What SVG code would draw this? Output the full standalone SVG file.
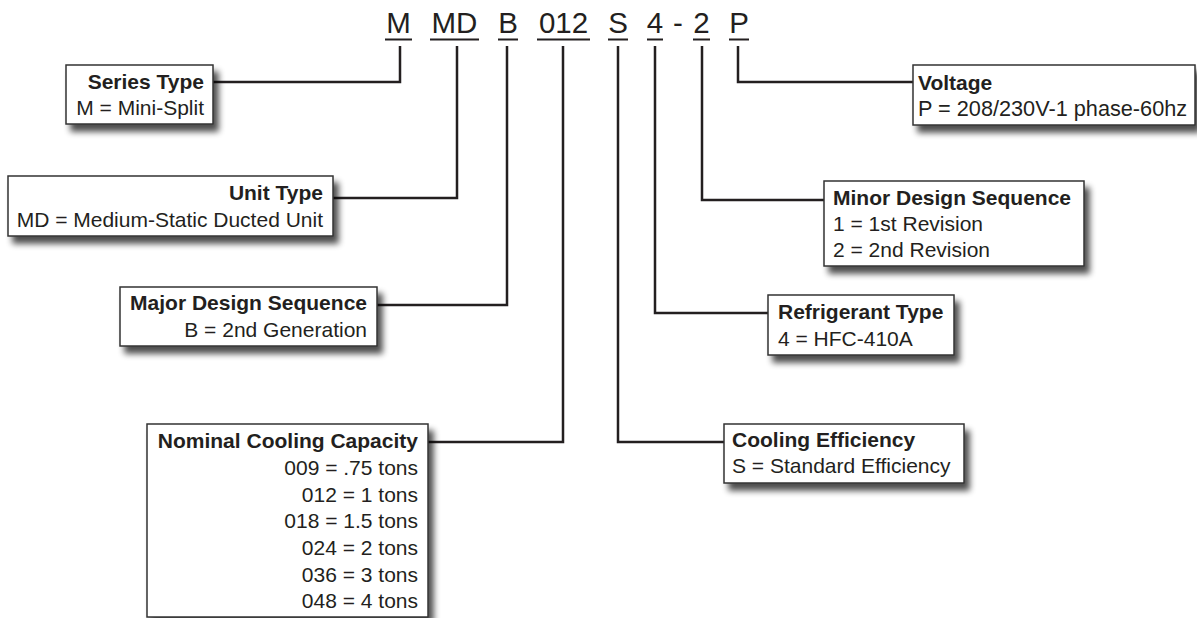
<svg xmlns="http://www.w3.org/2000/svg" width="1197" height="618" viewBox="0 0 1197 618">
<defs>
<filter id="sh" x="-10%" y="-20%" width="130%" height="160%">
<feGaussianBlur in="SourceAlpha" stdDeviation="3"/>
<feOffset dx="5" dy="7" result="b"/>
<feComponentTransfer><feFuncA type="linear" slope="0.7"/></feComponentTransfer>
<feMerge><feMergeNode/><feMergeNode in="SourceGraphic"/></feMerge>
</filter>
<style>
.code{font-family:"Liberation Sans",Arial,sans-serif;font-size:29.5px;fill:#231f20;text-anchor:middle}
.ul{stroke:#231f20;stroke-width:2}
.box{fill:#fff;stroke:#333;stroke-width:1.5;filter:url(#sh)}
.t{font-family:"Liberation Sans",Arial,sans-serif;font-size:21px;fill:#231f20}
.b{font-weight:bold}
.r{text-anchor:end}
.c{fill:none;stroke:#231f20;stroke-width:2.5}
</style>
</defs>
<rect width="1197" height="618" fill="#fff"/>
<g id="code">
<text class="code" x="398.5" y="33">M</text>
<text class="code" x="454.5" y="33">MD</text>
<text class="code" x="508" y="33">B</text>
<text class="code" x="563.5" y="33">012</text>
<text class="code" x="618" y="33">S</text>
<text class="code" x="655" y="33">4</text>
<text class="code" x="678" y="33">-</text>
<text class="code" x="701.5" y="33">2</text>
<text class="code" x="739" y="33">P</text>
<line class="ul" x1="385" y1="39.5" x2="412" y2="39.5"/>
<line class="ul" x1="430" y1="39.5" x2="479" y2="39.5"/>
<line class="ul" x1="498" y1="39.5" x2="518" y2="39.5"/>
<line class="ul" x1="537" y1="39.5" x2="590" y2="39.5"/>
<line class="ul" x1="608" y1="39.5" x2="628" y2="39.5"/>
<line class="ul" x1="647" y1="39.5" x2="663" y2="39.5"/>
<line class="ul" x1="693" y1="39.5" x2="710" y2="39.5"/>
<line class="ul" x1="729" y1="39.5" x2="749" y2="39.5"/>
</g>
<g id="connectors">
<polyline class="c" points="213,82 400,82 400,46"/>
<polyline class="c" points="333,198 457,198 457,46"/>
<polyline class="c" points="377,305 507,305 507,46"/>
<polyline class="c" points="428,442 563,442 563,46"/>
<polyline class="c" points="724,442 618,442 618,46"/>
<polyline class="c" points="768,313 655,313 655,46"/>
<polyline class="c" points="824,200 702,200 702,46"/>
<polyline class="c" points="913,82 738,82 738,46"/>
</g>
<g id="series-type">
<rect class="box" x="66" y="65" width="147" height="59"/>
<text class="t b r" x="204" y="89">Series Type</text>
<text class="t r" x="204" y="115">M = Mini-Split</text>
</g>
<g id="unit-type">
<rect class="box" x="8" y="176" width="325" height="60"/>
<text class="t b r" x="323" y="200">Unit Type</text>
<text class="t r" x="323" y="227">MD = Medium-Static Ducted Unit</text>
</g>
<g id="major-design">
<rect class="box" x="120" y="287" width="257" height="59"/>
<text class="t b r" x="367" y="310">Major Design Sequence</text>
<text class="t r" x="367" y="337">B = 2nd Generation</text>
</g>
<g id="nominal-cooling">
<rect class="box" x="147" y="424" width="281" height="193"/>
<text class="t b r" x="418" y="448">Nominal Cooling Capacity</text>
<text class="t r" x="418" y="475">009 = .75 tons</text>
<text class="t r" x="418" y="501.5">012 = 1 tons</text>
<text class="t r" x="418" y="528">018 = 1.5 tons</text>
<text class="t r" x="418" y="555">024 = 2 tons</text>
<text class="t r" x="418" y="581.5">036 = 3 tons</text>
<text class="t r" x="418" y="608">048 = 4 tons</text>
</g>
<g id="voltage">
<rect class="box" x="913" y="65" width="282" height="60"/>
<text class="t b" x="918" y="90">Voltage</text>
<text class="t" x="918" y="116" style="font-size:21.7px">P = 208/230V-1 phase-60hz</text>
</g>
<g id="minor-design">
<rect class="box" x="824" y="181" width="260" height="85"/>
<text class="t b" x="833" y="205">Minor Design Sequence</text>
<text class="t" x="833" y="231">1 = 1st Revision</text>
<text class="t" x="833" y="257">2 = 2nd Revision</text>
</g>
<g id="refrigerant">
<rect class="box" x="768" y="295" width="186" height="60"/>
<text class="t b" x="778" y="319">Refrigerant Type</text>
<text class="t" x="778" y="346">4 = HFC-410A</text>
</g>
<g id="cooling-efficiency">
<rect class="box" x="724" y="424" width="240" height="59"/>
<text class="t b" x="732" y="447">Cooling Efficiency</text>
<text class="t" x="732" y="473">S = Standard Efficiency</text>
</g>
</svg>
